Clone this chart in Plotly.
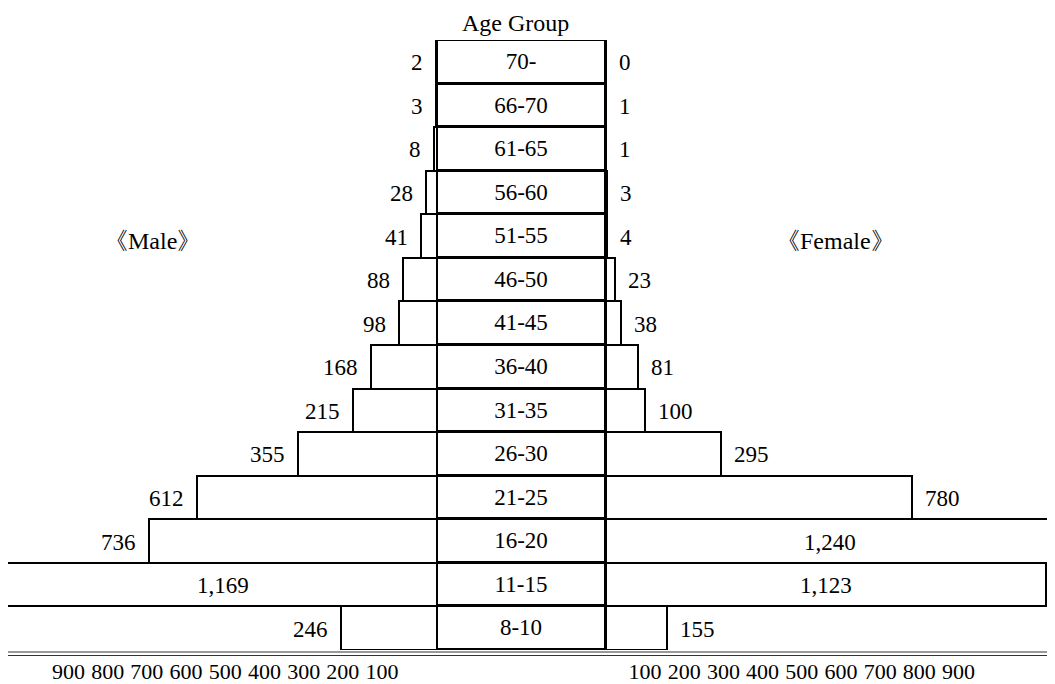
import plotly.graph_objects as go

# ---- data ----
age_groups = ["70-", "66-70", "61-65", "56-60", "51-55", "46-50", "41-45",
              "36-40", "31-35", "26-30", "21-25", "16-20", "11-15", "8-10"]
male = [2, 3, 8, 28, 41, 88, 98, 168, 215, 355, 612, 736, 1169, 246]
female = [0, 1, 1, 3, 4, 23, 38, 81, 100, 295, 780, 1240, 1123, 155]
tick_values = [100, 200, 300, 400, 500, 600, 700, 800, 900]

# ---- layout constants ----
HALF = 215          # half width of the centre "Age Group" column, in value units
X_MIN, X_MAX = -1310, 1361
INSIDE_LIMIT = 1000
FONT = "Liberation Serif"
FS = 23
FS_TICK = 22

fig = go.Figure()

# centre column (age group boxes)
fig.add_trace(go.Bar(
    y=age_groups, x=[2 * HALF] * len(age_groups), base=-HALF, orientation="h",
    marker=dict(color="white", line=dict(color="black", width=3)),
    text=age_groups, textposition="inside", insidetextanchor="middle",
    textfont=dict(family=FONT, size=FS, color="black"),
    hoverinfo="skip", showlegend=False))
# female bars
fig.add_trace(go.Bar(
    y=age_groups, x=female, base=HALF, orientation="h",
    marker=dict(color="white", line=dict(color="black", width=2)),
    hoverinfo="skip", showlegend=False))
# male bars (on an overlaid copy of the x axis that carries the male ticks)
fig.add_trace(go.Bar(
    y=age_groups, x=[-v for v in male], base=-HALF, orientation="h",
    xaxis="x2",
    marker=dict(color="white", line=dict(color="black", width=2)),
    hoverinfo="skip", showlegend=False))

annotations = []
for g, m, f in zip(age_groups, male, female):
    if m > INSIDE_LIMIT:
        xm = (max(-HALF - m, X_MIN) + (-HALF)) / 2
        annotations.append(dict(x=xm, y=g, xref="x2", text=f"{m:,}", showarrow=False,
                                xanchor="center", yshift=-1))
    else:
        annotations.append(dict(x=-HALF - m, y=g, xref="x2", text=f"{m:,}",
                                showarrow=False, xanchor="right", xshift=-11, yshift=-1))
    if f > INSIDE_LIMIT:
        xf = (min(HALF + f, X_MAX) + HALF) / 2
        annotations.append(dict(x=xf, y=g, xref="x", text=f"{f:,}", showarrow=False,
                                xanchor="center", yshift=-1))
    else:
        annotations.append(dict(x=HALF + f, y=g, xref="x", text=f"{f:,}",
                                showarrow=False, xanchor="left", xshift=11, yshift=-1))

annotations.append(dict(x=0, y=1, xref="x", yref="paper", text="Age Group",
                        showarrow=False, xanchor="center", yanchor="bottom",
                        yshift=2, xshift=-6,
                        font=dict(family=FONT, size=24, color="black")))
annotations.append(dict(x=0.138, y="51-55", xref="paper", yref="y", text="《Male》",
                        showarrow=False, xanchor="center", yshift=-5,
                        font=dict(family=FONT, size=24, color="black")))
annotations.append(dict(x=0.79, y="51-55", xref="paper", yref="y", text="《Female》",
                        showarrow=False, xanchor="center", yshift=-5,
                        font=dict(family=FONT, size=24, color="black")))

PLOT_H = 610
fig.update_layout(
    width=1047, height=676,
    margin=dict(l=0, r=0, t=32, b=34),
    paper_bgcolor="white", plot_bgcolor="white",
    barmode="overlay", bargap=0,
    font=dict(family=FONT, size=FS, color="black"),
    annotations=annotations,
    shapes=[
        dict(type="line", xref="paper", yref="paper", x0=0, x1=1,
             y0=-2 / PLOT_H, y1=-2 / PLOT_H, line=dict(color="#333333", width=1)),
        dict(type="line", xref="paper", yref="paper", x0=0, x1=1,
             y0=-5.5 / PLOT_H, y1=-5.5 / PLOT_H, line=dict(color="#333333", width=1)),
    ],
    xaxis=dict(range=[X_MIN, X_MAX], showgrid=False, zeroline=False, showline=False,
               tickvals=[HALF + t for t in tick_values],
               ticktext=[str(t) for t in tick_values],
               ticks="", ticklabelstandoff=6,
               tickfont=dict(family=FONT, size=FS_TICK, color="black")),
    xaxis2=dict(range=[X_MIN, X_MAX], overlaying="x", side="bottom", anchor="y",
                showgrid=False, zeroline=False, showline=False,
                tickvals=[-HALF - t for t in tick_values],
                ticktext=[str(t) for t in tick_values],
                ticks="", ticklabelstandoff=6, ticklabelshift=-16,
                tickfont=dict(family=FONT, size=FS_TICK, color="black")),
    yaxis=dict(categoryorder="array", categoryarray=age_groups,
               range=[len(age_groups) - 0.5, -0.5], showgrid=False,
               zeroline=False, showline=False, showticklabels=False, ticks=""),
)

fig.write_html("out.html")
